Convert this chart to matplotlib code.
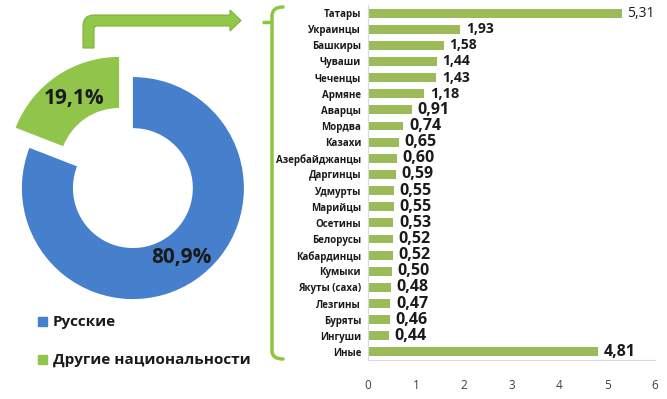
import matplotlib.pyplot as plt
from matplotlib.path import Path
from matplotlib.patches import PathPatch
from matplotlib.transforms import Affine2D

plt.rcParams['font.family'] = ['Open Sans', 'DejaVu Sans']

# donut data
shares = [80.9, 19.1]
share_labels = ['80,9%', '19,1%']
groups = ['Русские', 'Другие национальности']

# bar data
nations = ['Татары', 'Украинцы', 'Башкиры', 'Чуваши', 'Чеченцы', 'Армяне', 'Аварцы',
           'Мордва', 'Казахи', 'Азербайджанцы', 'Даргинцы', 'Удмурты', 'Марийцы',
           'Осетины', 'Белорусы', 'Кабардинцы', 'Кумыки', 'Якуты (саха)', 'Лезгины',
           'Буряты', 'Ингуши', 'Иные']
values = [5.31, 1.93, 1.58, 1.44, 1.43, 1.18, 0.91, 0.74, 0.65, 0.60, 0.59, 0.55, 0.55,
          0.53, 0.52, 0.52, 0.50, 0.48, 0.47, 0.46, 0.44, 4.81]
x_ticks = [0, 1, 2, 3, 4, 5, 6]

blue = '#4680cc'
green = '#90c44a'
bar_green = '#9bbb59'

W, H = 667, 399
fig = plt.figure(figsize=(W / 100, H / 100), dpi=100)


def px_box(left, top, width, height):
    return [left / W, 1 - (top + height) / H, width / W, height / H]


# ---- donut ----
R = 111.0
cx, cy = 126, 178
ax_pie = fig.add_axes(px_box(0, 40, 260, 270))
wedges, _ = ax_pie.pie(shares, colors=[blue, green], startangle=90, counterclock=False,
                       explode=[0.11, 0.11], wedgeprops=dict(width=0.46, linewidth=0))
ax_pie.set_aspect('auto')
ax_pie.set_xlim(-cx / R, (260 - cx) / R)
ax_pie.set_ylim(-(310 - cy) / R, (cy - 40) / R)
ax_pie.text(0.5, -0.72, share_labels[0], fontsize=15, fontweight='bold', color='#1a1a1a',
            ha='center', va='center')
ax_pie.text(-0.47, 0.72, share_labels[1], fontsize=15, fontweight='bold', color='#1a1a1a',
            ha='center', va='center')

# legend
for i, (g, c) in enumerate(zip(groups, [blue, green])):
    y = 322 + i * 38
    fig.patches.append(plt.Rectangle((38 / W, 1 - (y + 4) / H), 9 / W, 9 / H,
                                     transform=fig.transFigure, color=c))
    fig.text(53 / W, 1 - y / H, g, fontsize=11, fontweight='bold', color='#1a1a1a',
             va='center', ha='left')

# ---- arrow and bracket (pixel coords, y down) ----
to_fig = Affine2D().scale(1 / W, -1 / H).translate(0, 1) + fig.transFigure
r = 11
arrow_pts = [(83, 48), (83, 15 + r), (83, 15), (83 + r, 15), (230, 15), (230, 10),
             (241, 20.5), (230, 31), (230, 26), (97, 26), (94, 26), (94, 29), (94, 48),
             (83, 48)]
arrow_codes = [Path.MOVETO, Path.LINETO, Path.CURVE3, Path.CURVE3, Path.LINETO, Path.LINETO,
               Path.LINETO, Path.LINETO, Path.LINETO, Path.LINETO, Path.CURVE3, Path.CURVE3,
               Path.LINETO, Path.CLOSEPOLY]
fig.patches.append(PathPatch(Path(arrow_pts, arrow_codes), transform=to_fig,
                             facecolor='#92c84a', edgecolor='#7fb13c', linewidth=0.8))

# bracket: vertical line with curled ends and a short prong to the left
br_pts = [(283, 7), (272, 7), (272, 16), (272, 351), (272, 359), (283, 359)]
br_codes = [Path.MOVETO, Path.CURVE3, Path.CURVE3, Path.LINETO, Path.CURVE3, Path.CURVE3]
fig.patches.append(PathPatch(Path(br_pts, br_codes), transform=to_fig, facecolor='none',
                             edgecolor='#8cc63f', linewidth=2.5, capstyle='round'))
fig.patches.append(PathPatch(Path([(262, 22), (272, 22)]), transform=to_fig,
                             facecolor='none', edgecolor='#8cc63f', linewidth=2.5))

# ---- bars ----
ax = fig.add_axes(px_box(368, 5, 287, 355))
ypos = list(range(len(nations)))
ax.barh(ypos, values, height=0.55, color=bar_green)
ax.set_ylim(len(nations) - 0.5, -0.5)
ax.set_xlim(0, 6)
ax.set_yticks(ypos)
ax.set_yticklabels(nations, fontsize=7, fontweight='bold', color='#1a1a1a')
ax.set_xticks(x_ticks)
ax.set_xticklabels([str(t) for t in x_ticks], fontsize=8.5, color='#404040')
ax.tick_params(length=0, pad=5)
ax.tick_params(axis='x', pad=14)
for s in ['top', 'right']:
    ax.spines[s].set_visible(False)
for s in ['left', 'bottom']:
    ax.spines[s].set_color('#d9d9d9')
    ax.spines[s].set_linewidth(0.8)

for i, v in enumerate(values):
    txt = f'{v:.2f}'.replace('.', ',')
    if i == 0:
        fs, fw = 10, 'normal'
    elif i < 5:
        fs, fw = 10, 'bold'
    elif i < 6:
        fs, fw = 10.5, 'bold'
    else:
        fs, fw = 11.5, 'bold'
    ax.annotate(txt, (v, i), xytext=(4, 0), textcoords='offset points', fontsize=fs,
                fontweight=fw, color='#1a1a1a', va='center', ha='left')

fig.savefig('out.png', dpi=100)
